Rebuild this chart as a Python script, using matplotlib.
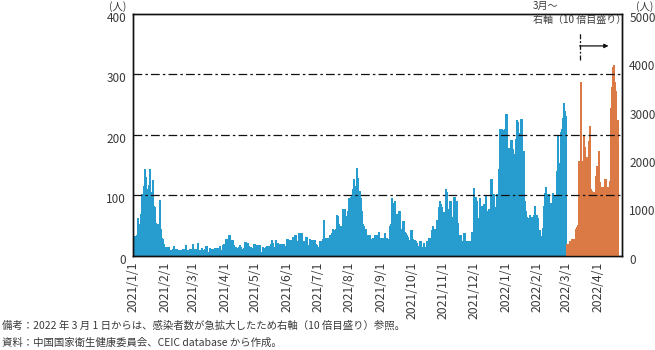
import pandas as pd
import matplotlib
matplotlib.use('Agg')
import matplotlib.pyplot as plt
import matplotlib.transforms as mtransforms

plt.rcParams['font.family'] = ['Noto Sans CJK JP', 'DejaVu Sans']

# daily new cases (人) - left axis, 2021/1/1 - 2022/2/28
jan21 = [22, 33, 33, 34, 63, 53, 34, 69, 103, 55, 116, 143, 130, 110, 110, 118, 143, 103, 105, 125,
         83, 80, 55, 53, 53, 92, 45, 30, 28, 20, 15]
feb21 = [13, 14, 14, 14, 10, 10, 9, 11, 16, 12, 10, 11, 9, 10, 9, 10, 8, 11, 12, 10,
         18, 10, 9, 9, 11, 10, 12, 19]
mar21 = [12, 12, 11, 12, 21, 10, 10, 6, 13, 10, 4, 11, 16, 6, 7, 13, 7, 11, 7, 11,
         13, 13, 12, 13, 10, 16, 10, 10, 18, 19, 19]
apr21 = [28, 28, 28, 35, 35, 27, 27, 27, 18, 14, 15, 13, 13, 15, 18, 15, 10, 12, 13, 23,
         23, 21, 21, 16, 14, 14, 13, 12, 19, 10]
may21 = [18, 18, 15, 18, 7, 6, 14, 7, 13, 14, 17, 17, 10, 16, 20, 27, 22, 14, 12, 27,
         13, 21, 19, 19, 19, 16, 20, 20, 16, 16, 28]
jun21 = [28, 27, 27, 27, 27, 31, 31, 35, 35, 24, 24, 37, 37, 37, 25, 25, 25, 31, 31, 18,
         18, 28, 27, 17, 27, 27, 27, 19, 18, 12]
jul21 = [14, 25, 20, 25, 28, 60, 20, 30, 28, 30, 28, 34, 30, 37, 45, 40, 42, 45, 67, 66,
         52, 50, 50, 50, 78, 78, 78, 66, 65, 75, 95]
aug21 = [97, 100, 110, 127, 112, 115, 145, 128, 102, 108, 95, 75, 52, 50, 30, 45, 28, 35, 20, 35,
         22, 28, 30, 25, 35, 25, 34, 28, 40, 25, 30]
sep21 = [30, 30, 20, 38, 22, 30, 28, 28, 50, 52, 95, 85, 87, 90, 70, 70, 75, 75, 45, 45,
         57, 57, 40, 37, 35, 32, 25, 26, 43, 43]
oct21 = [28, 27, 27, 25, 22, 17, 17, 25, 24, 15, 12, 22, 10, 15, 25, 25, 30, 22, 30, 42,
         50, 45, 42, 45, 60, 45, 80, 90, 85, 80, 73]
nov21 = [73, 110, 105, 78, 73, 90, 90, 65, 65, 98, 98, 90, 90, 55, 32, 35, 35, 25, 23, 38,
         38, 23, 25, 25, 25, 25, 23, 40, 40, 112]
dec21 = [75, 97, 90, 62, 63, 95, 75, 82, 63, 85, 75, 100, 75, 70, 78, 76, 127, 82, 103, 80,
         80, 102, 88, 143, 209, 209, 210, 208, 208, 210, 235]
jan22 = [235, 178, 178, 178, 192, 192, 177, 168, 168, 194, 225, 221, 204, 203, 227, 227, 174, 174, 90, 75,
         65, 63, 59, 67, 47, 65, 63, 67, 83, 60, 68]
feb22 = [63, 42, 33, 29, 46, 82, 104, 114, 32, 102, 103, 69, 87, 82, 104, 99, 96, 99, 140, 198,
         146, 154, 205, 209, 228, 252, 240, 232]

# right axis (10x scale) from 2022/3/1
mar22 = [250, 250, 250, 310, 310, 350, 350, 350, 350, 560, 590, 630, 1970, 1470, 3600, 1970, 1350, 2480, 2250, 1760,
         2040, 2370, 2690, 1380, 1350, 1280, 1320, 1330, 1650, 1860, 1860]
apr22 = [2160, 1520, 1430, 1430, 1430, 1430, 1590, 1590, 1430, 1430, 1310, 1540, 3050, 3500, 3900, 3950, 3600, 3400,
         2800, 2800]

blue_vals = jan21 + feb21 + mar21 + apr21 + may21 + jun21 + jul21 + aug21 + sep21 + oct21 + nov21 + dec21 + jan22 + feb22
orange_vals = mar22 + apr22

blue_dates = pd.date_range('2021-01-01', periods=len(blue_vals), freq='D')
orange_dates = pd.date_range('2022-03-01', periods=len(orange_vals), freq='D')

month_ticks = pd.date_range('2021-01-01', '2022-04-01', freq='MS')
tick_labels = [f'{d.year}/{d.month}/1' for d in month_ticks]

left_ticks = [0, 100, 200, 300, 400]
right_ticks = [0, 1000, 2000, 3000, 4000, 5000]
grid_vals = [100, 200, 300]

BLUE = '#279dcf'
ORANGE = '#dc7a45'
TXT = '#3a3a3a'

fig = plt.figure(figsize=(6.55, 3.5), dpi=100)
ax = fig.add_axes([0.203, 0.269, 0.747, 0.691])
ax2 = ax.twinx()

ax.bar(blue_dates, blue_vals, width=1.0, align='edge', color=BLUE, edgecolor=BLUE,
       linewidth=0.5, antialiased=False)
ax2.bar(orange_dates, orange_vals, width=1.0, align='edge', color=ORANGE, edgecolor=ORANGE,
        linewidth=0.5, antialiased=False)

ax.set_xlim(pd.Timestamp('2021-01-01'), pd.Timestamp('2022-04-25'))
ax.set_ylim(0, 400)
ax2.set_ylim(0, 5000)
ax.set_yticks(left_ticks)
ax2.set_yticks(right_ticks)
ax.set_xticks(month_ticks)
ax.set_xticklabels(tick_labels, rotation=90, fontsize=8.8, color=TXT)
ax.tick_params(axis='both', length=0, labelsize=8.5, labelcolor=TXT)
ax.tick_params(axis='x', pad=4, labelsize=8.8)
ax.tick_params(axis='y', pad=5)
ax2.tick_params(axis='y', length=0, labelsize=8.5, labelcolor=TXT, pad=5)

# nudge y tick labels slightly down like the original
shift = mtransforms.ScaledTranslation(0, -0.03, fig.dpi_scale_trans)
for lab in ax.get_yticklabels() + ax2.get_yticklabels():
    lab.set_transform(lab.get_transform() + shift)

# dash-dot grid on the left scale, drawn above the bars
trans = mtransforms.blended_transform_factory(ax2.transAxes, ax.transData)
for v in grid_vals:
    ax2.plot([0, 1], [v, v], transform=trans, color='#111111', lw=0.9,
             linestyle=(0, (7, 2.5, 2, 2.5)), zorder=5)

for a in (ax, ax2):
    for s in a.spines.values():
        s.set_linewidth(1.0)
        s.set_color('#111111')

fig.text(0.180, 0.980, '(人)', fontsize=7.5, color=TXT, ha='center', va='center')
fig.text(0.985, 0.980, '(人)', fontsize=7.5, color=TXT, ha='center', va='center')

fig.text(0.814, 0.982, '3月～', fontsize=7.2, color=TXT, ha='left', va='center')
fig.text(0.814, 0.943, '右軸（10 倍目盛り）', fontsize=7.2, color=TXT, ha='left', va='center')

ax2.plot([0.913, 0.913], [0.81, 0.926], transform=ax2.transAxes, color='#111111', lw=0.9,
         linestyle=(0, (4, 1.5, 1.5, 1.5)), clip_on=False)
ax2.annotate('', xy=(0.972, 0.868), xytext=(0.913, 0.868), xycoords='axes fraction',
             arrowprops=dict(arrowstyle='-|>', color='#111111', lw=0.9, mutation_scale=6,
                             shrinkA=0, shrinkB=0))

fig.text(0.003, 0.069, '備考：2022 年 3 月 1 日からは、感染者数が急拡大したため右軸（10 倍目盛り）参照。',
         fontsize=7.5, color=TXT, ha='left', va='center')
fig.text(0.003, 0.022, '資料：中国国家衛生健康委員会、CEIC database から作成。',
         fontsize=7.5, color=TXT, ha='left', va='center')

fig.savefig('out.png', dpi=100)
